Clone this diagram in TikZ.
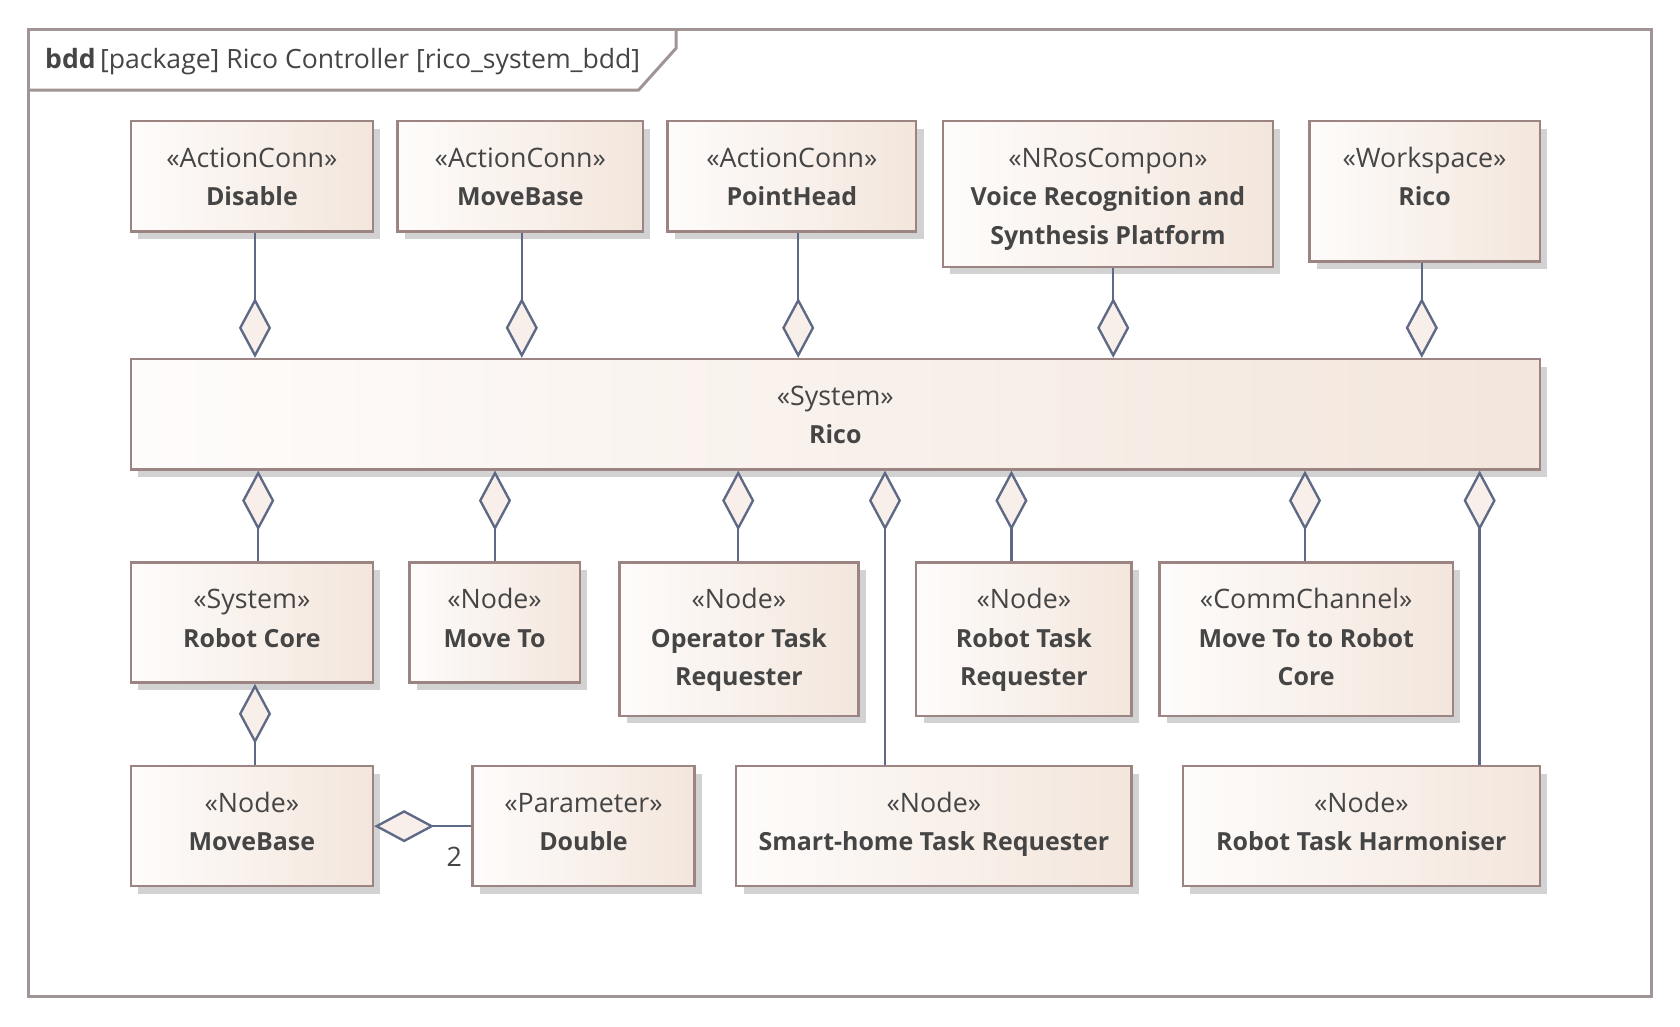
\documentclass[tikz,border=0pt]{standalone}
\usepackage{fontspec}
\setmainfont{Open Sans}
\usetikzlibrary{arrows.meta,shadows,calc}
\definecolor{boxline}{HTML}{9C8482}
\definecolor{boxL}{HTML}{FEFCFB}
\definecolor{boxR}{HTML}{F3E6DC}
\definecolor{conn}{HTML}{5E6A85}
\definecolor{txtc}{HTML}{454545}
\definecolor{shadowc}{HTML}{D2D2D2}
\definecolor{framec}{HTML}{A09494}
\definecolor{diamc}{HTML}{F8EEEA}
\begin{document}
\begin{tikzpicture}[x=1pt,y=-1pt,
  blk/.style={draw=boxline, line width=2.2pt, left color=boxL, right color=boxR,
    general shadow={fill=shadowc, shadow xshift=7pt, shadow yshift=-7pt},
    inner sep=0pt, anchor=north west},
  tx/.style={text=txtc, font=\fontsize{25}{30}\selectfont, anchor=base, inner sep=0pt},
  nm/.style={tx, font=\fontsize{23.3}{30}\selectfont\bfseries},
  agg/.style={draw=conn, line width=2.2pt, -{Diamond[length=56pt,width=30pt,fill=diamc,line width=2.2pt]}},
  fr/.style={draw=framec, line width=2.8pt}
]
\useasboundingbox (0,0) rectangle (1568,958);
% frame
\draw[fr] (27,28) rectangle (1541,930);
\draw[fr] (27,84) -- (596,84) -- (631,45) -- (631,28);
\node[tx, anchor=base west, font=\fontsize{24.8}{30}\selectfont] (title) at (42,64) {\textbf{bdd}\,[package] Rico Controller [rico\_system\_bdd]};

% top row
\node[blk, minimum width=226pt, minimum height=103pt] (disable) at (121,112) {};
\node[tx] at ([yshift=-44pt]disable.north) {«ActionConn»};
\node[nm] at ([yshift=-80pt]disable.north) {Disable};

\node[blk, minimum width=229pt, minimum height=103pt] (mvb) at (370,112) {};
\node[tx] at ([yshift=-44pt]mvb.north) {«ActionConn»};
\node[nm] at ([yshift=-80pt]mvb.north) {MoveBase};

\node[blk, minimum width=232pt, minimum height=103pt] (ph) at (622,112) {};
\node[tx] at ([yshift=-44pt]ph.north) {«ActionConn»};
\node[nm] at ([yshift=-80pt]ph.north) {PointHead};

\node[blk, minimum width=308pt, minimum height=136pt] (voice) at (879,112) {};
\node[tx] at ([yshift=-44pt]voice.north) {«NRosCompon»};
\node[nm] at ([yshift=-80pt]voice.north) {Voice Recognition and};
\node[nm] at ([yshift=-116pt]voice.north) {Synthesis Platform};

\node[blk, minimum width=215pt, minimum height=131pt] (ws) at (1221,112) {};
\node[tx] at ([yshift=-44pt]ws.north) {«Workspace»};
\node[nm] at ([yshift=-80pt]ws.north) {Rico};

% system
\node[blk, minimum width=1315pt, minimum height=103pt] (rico) at (121,334) {};
\node[tx] at ([yshift=-44pt]rico.north) {«System»};
\node[nm] at ([yshift=-80pt]rico.north) {Rico};

% middle row
\node[blk, minimum width=226pt, minimum height=112pt] (rc) at (121,524) {};
\node[tx] at ([yshift=-44pt]rc.north) {«System»};
\node[nm] at ([yshift=-80pt]rc.north) {Robot Core};

\node[blk, minimum width=159pt, minimum height=112pt] (mt) at (381,524) {};
\node[tx] at ([yshift=-44pt]mt.north) {«Node»};
\node[nm] at ([yshift=-80pt]mt.north) {Move To};

\node[blk, minimum width=223pt, minimum height=143pt] (otr) at (577,524) {};
\node[tx] at ([yshift=-44pt]otr.north) {«Node»};
\node[nm] at ([yshift=-80pt]otr.north) {Operator Task};
\node[nm] at ([yshift=-116pt]otr.north) {Requester};

\node[blk, minimum width=201pt, minimum height=143pt] (rtr) at (854,524) {};
\node[tx] at ([yshift=-44pt]rtr.north) {«Node»};
\node[nm] at ([yshift=-80pt]rtr.north) {Robot Task};
\node[nm] at ([yshift=-116pt]rtr.north) {Requester};

\node[blk, minimum width=274pt, minimum height=143pt] (cc) at (1081,524) {};
\node[tx] at ([yshift=-44pt]cc.north) {«CommChannel»};
\node[nm] at ([yshift=-80pt]cc.north) {Move To to Robot};
\node[nm] at ([yshift=-116pt]cc.north) {Core};

% bottom row
\node[blk, minimum width=226pt, minimum height=112pt] (mbn) at (121,714) {};
\node[tx] at ([yshift=-44pt]mbn.north) {«Node»};
\node[nm] at ([yshift=-80pt]mbn.north) {MoveBase};

\node[blk, minimum width=207pt, minimum height=112pt] (dbl) at (440,714) {};
\node[tx] at ([yshift=-44pt]dbl.north) {«Parameter»};
\node[nm] at ([yshift=-80pt]dbl.north) {Double};

\node[blk, minimum width=369pt, minimum height=112pt] (sh) at (686,714) {};
\node[tx] at ([yshift=-44pt]sh.north) {«Node»};
\node[nm] at ([yshift=-80pt]sh.north) {Smart-home Task Requester};

\node[blk, minimum width=333pt, minimum height=112pt] (rth) at (1103,714) {};
\node[tx] at ([yshift=-44pt]rth.north) {«Node»};
\node[nm] at ([yshift=-80pt]rth.north) {Robot Task Harmoniser};

% connector x positions
\coordinate (t1) at (238,0);
\coordinate (t2) at (487,0);
\coordinate (t3) at (745,0);
\coordinate (t4) at (1039,0);
\coordinate (t5) at (1327,0);
\coordinate (b1) at (241,0);
\coordinate (b2) at (462,0);
\coordinate (b3) at (689,0);
\coordinate (b4) at (826,0);
\coordinate (b5) at (944,0);
\coordinate (b6) at (1218,0);
\coordinate (b7) at (1381,0);
\coordinate (b0) at (238,0);

\draw[agg] (disable.south -| t1) -- (rico.north -| t1);
\draw[agg] (mvb.south -| t2) -- (rico.north -| t2);
\draw[agg] (ph.south -| t3) -- (rico.north -| t3);
\draw[agg] (voice.south -| t4) -- (rico.north -| t4);
\draw[agg] (ws.south -| t5) -- (rico.north -| t5);

\draw[agg] (rc.north -| b1) -- (rico.south -| b1);
\draw[agg] (mt.north -| b2) -- (rico.south -| b2);
\draw[agg] (otr.north -| b3) -- (rico.south -| b3);
\draw[agg] (sh.north -| b4) -- (rico.south -| b4);
\draw[agg] (rtr.north -| b5) -- (rico.south -| b5);
\draw[agg] (cc.north -| b6) -- (rico.south -| b6);
\draw[agg] (rth.north -| b7) -- (rico.south -| b7);

\draw[agg] (mbn.north -| b0) -- (rc.south -| b0);
\draw[agg] (dbl.west) -- (mbn.east);
\node[tx] (mult) at (424,809) {2};
\end{tikzpicture}
\end{document}
